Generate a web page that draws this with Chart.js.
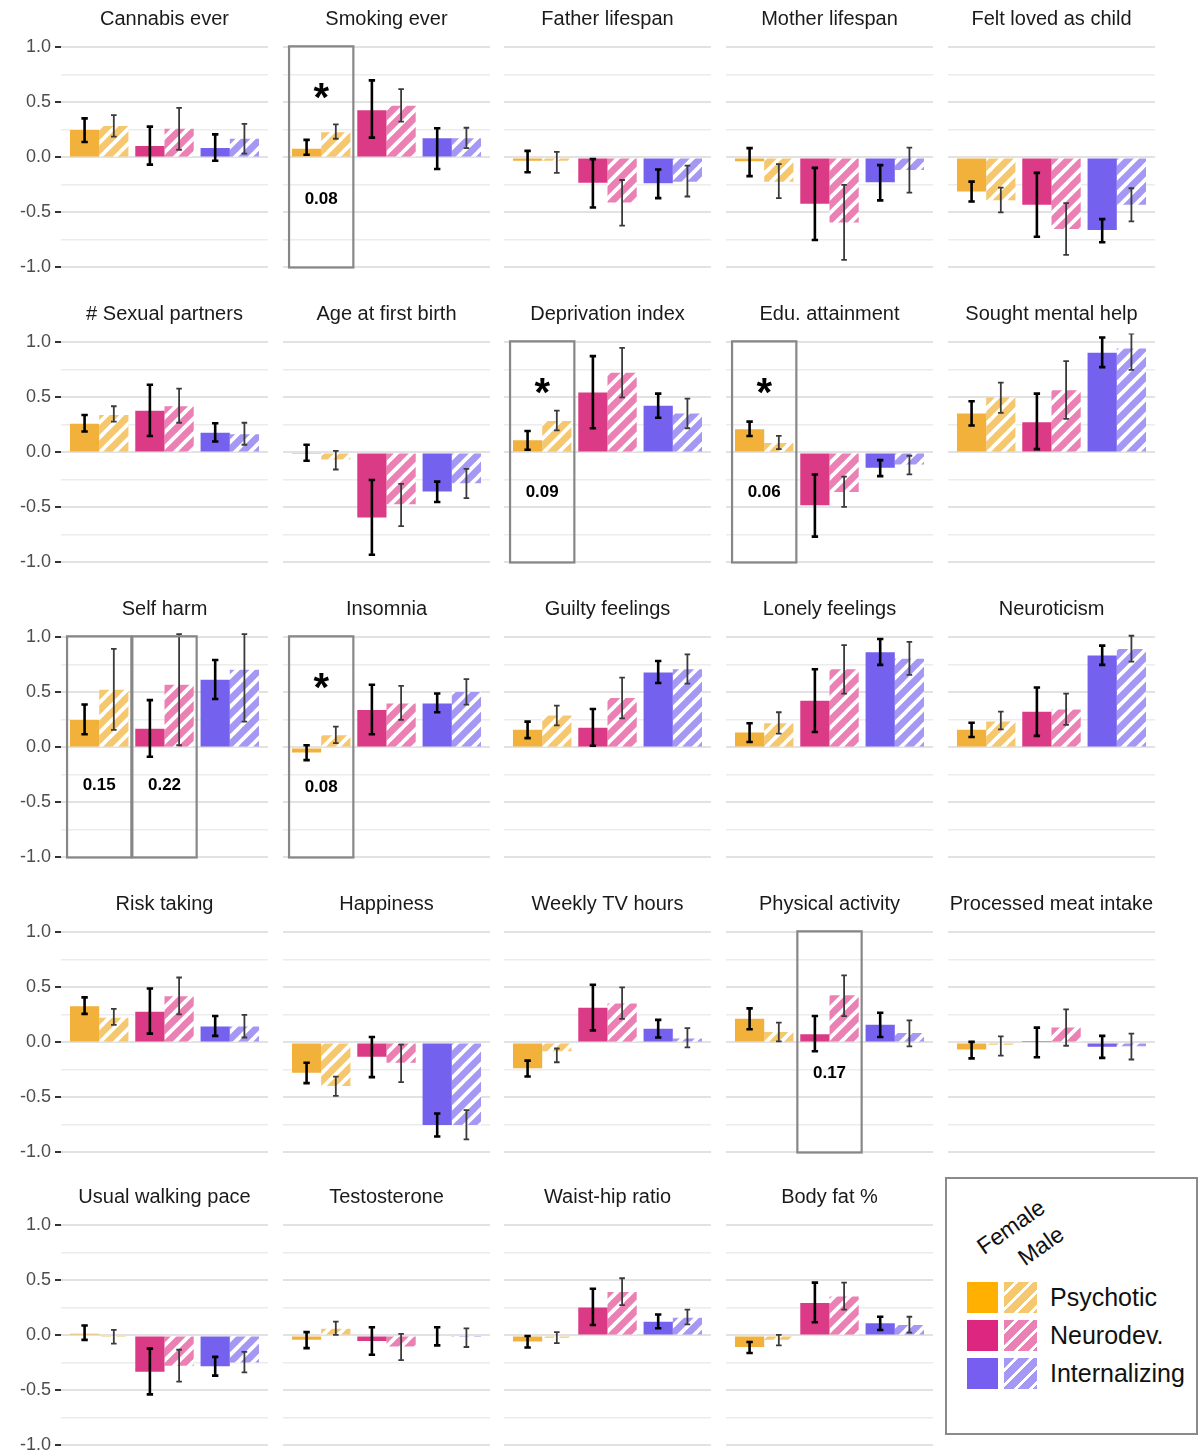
<!DOCTYPE html>
<html>
<head>
<meta charset="utf-8">
<script src="https://cdn.jsdelivr.net/npm/chart.js@4.4.1/dist/chart.umd.min.js"></script>
<style>
  html, body { margin: 0; padding: 0; background: #fff; }
  #page { position: relative; width: 1198px; height: 1456px; overflow: hidden; font-family: "Liberation Sans", Arial, sans-serif; }
  #page canvas { position: absolute; }
  #legend { position: absolute; left: 945px; top: 1177px; width: 249px; height: 254px; border: 2px solid #8a8a8a; }
  #legend .sex { position: absolute; font-size: 23px; color: #111; transform: translate(-50%, -50%) rotate(-35deg); white-space: nowrap; }
  #legend .sw { position: absolute; width: 31px; height: 31px; }
  #legend .lab { position: absolute; font-size: 25px; color: #111; line-height: 31px; }
</style>
</head>
<body>
<div id="page"><div id="legend"></div></div>
<script>
// ---- data ----
const panelTitles = ['Cannabis ever', 'Smoking ever', 'Father lifespan', 'Mother lifespan', 'Felt loved as child',
  '# Sexual partners', 'Age at first birth', 'Deprivation index', 'Edu. attainment', 'Sought mental help',
  'Self harm', 'Insomnia', 'Guilty feelings', 'Lonely feelings', 'Neuroticism',
  'Risk taking', 'Happiness', 'Weekly TV hours', 'Physical activity', 'Processed meat intake',
  'Usual walking pace', 'Testosterone', 'Waist-hip ratio', 'Body fat %'];

const groupNames = ['Psychotic', 'Neurodev.', 'Internalizing'];
const yTicks = [-1.0, -0.5, 0.0, 0.5, 1.0];

// one triple per panel: Psychotic, Neurodev., Internalizing
const femaleMean = [
  [0.25, 0.105, 0.085], [0.08, 0.43, 0.175], [-0.03, -0.23, -0.235], [-0.035, -0.42, -0.225], [-0.31, -0.43, -0.66],
  [0.26, 0.38, 0.18], [-0.005, -0.59, -0.355], [0.11, 0.545, 0.425], [0.21, -0.48, -0.14], [0.355, 0.275, 0.905],
  [0.25, 0.17, 0.615], [-0.045, 0.34, 0.40], [0.16, 0.18, 0.68], [0.135, 0.425, 0.865], [0.16, 0.325, 0.835],
  [0.33, 0.28, 0.145], [-0.275, -0.13, -0.75], [-0.235, 0.315, 0.125], [0.215, 0.075, 0.16], [-0.065, 0.005, -0.04],
  [0.015, -0.33, -0.28], [-0.04, -0.05, 0.0], [-0.055, 0.255, 0.125], [-0.105, 0.295, 0.11]
];
const femaleLow = [
  [0.14, -0.065, -0.03], [0.025, 0.18, -0.105], [-0.135, -0.455, -0.37], [-0.17, -0.75, -0.39], [-0.40, -0.72, -0.77],
  [0.19, 0.15, 0.10], [-0.075, -0.93, -0.45], [0.025, 0.22, 0.315], [0.15, -0.765, -0.215], [0.245, 0.03, 0.775],
  [0.12, -0.085, 0.44], [-0.115, 0.12, 0.32], [0.085, 0.015, 0.585], [0.05, 0.14, 0.75], [0.095, 0.105, 0.75],
  [0.26, 0.08, 0.06], [-0.37, -0.315, -0.855], [-0.31, 0.11, 0.045], [0.12, -0.08, 0.05], [-0.145, -0.135, -0.14],
  [-0.04, -0.535, -0.365], [-0.115, -0.175, -0.09], [-0.11, 0.095, 0.065], [-0.16, 0.12, 0.05]
];
const femaleHigh = [
  [0.355, 0.28, 0.21], [0.16, 0.70, 0.265], [0.06, -0.015, -0.11], [0.085, -0.095, -0.07], [-0.22, -0.14, -0.56],
  [0.34, 0.615, 0.265], [0.07, -0.25, -0.265], [0.195, 0.875, 0.535], [0.28, -0.20, -0.07], [0.465, 0.535, 1.045],
  [0.39, 0.43, 0.795], [0.02, 0.57, 0.49], [0.235, 0.35, 0.785], [0.22, 0.71, 0.985], [0.225, 0.545, 0.925],
  [0.41, 0.49, 0.24], [-0.185, 0.05, -0.645], [-0.165, 0.525, 0.205], [0.31, 0.24, 0.27], [0.005, 0.135, 0.06],
  [0.09, -0.12, -0.195], [0.03, 0.075, 0.075], [-0.005, 0.425, 0.19], [-0.06, 0.48, 0.17]
];
const maleMean = [
  [0.285, 0.26, 0.17], [0.23, 0.47, 0.175], [-0.03, -0.41, -0.22], [-0.22, -0.59, -0.115], [-0.39, -0.65, -0.43],
  [0.34, 0.42, 0.165], [-0.065, -0.47, -0.28], [0.285, 0.725, 0.355], [0.085, -0.36, -0.11], [0.50, 0.565, 0.945],
  [0.525, 0.57, 0.705], [0.11, 0.40, 0.505], [0.29, 0.45, 0.71], [0.22, 0.71, 0.805], [0.235, 0.345, 0.895],
  [0.225, 0.42, 0.145], [-0.395, -0.185, -0.75], [-0.08, 0.355, 0.035], [0.095, 0.43, 0.085], [-0.02, 0.135, -0.035],
  [-0.005, -0.275, -0.245], [0.06, -0.10, -0.015], [-0.02, 0.395, 0.16], [-0.04, 0.355, 0.095]
];
const maleLow = [
  [0.19, 0.07, 0.035], [0.17, 0.325, 0.085], [-0.14, -0.62, -0.355], [-0.37, -0.93, -0.32], [-0.50, -0.885, -0.58],
  [0.28, 0.27, 0.07], [-0.155, -0.67, -0.415], [0.20, 0.50, 0.22], [0.03, -0.495, -0.20], [0.36, 0.305, 0.75],
  [0.16, 0.02, 0.235], [0.04, 0.25, 0.39], [0.20, 0.265, 0.58], [0.125, 0.49, 0.66], [0.165, 0.205, 0.78],
  [0.16, 0.255, 0.045], [-0.485, -0.36, -0.88], [-0.18, 0.215, -0.045], [0.01, 0.24, -0.035], [-0.12, -0.03, -0.155],
  [-0.075, -0.42, -0.335], [0.005, -0.225, -0.105], [-0.07, 0.275, 0.10], [-0.09, 0.235, 0.025]
];
const maleHigh = [
  [0.385, 0.45, 0.305], [0.30, 0.62, 0.27], [0.05, -0.205, -0.075], [-0.06, -0.25, 0.09], [-0.275, -0.415, -0.28],
  [0.42, 0.58, 0.27], [0.015, -0.285, -0.15], [0.38, 0.95, 0.49], [0.15, -0.22, -0.03], [0.635, 0.83, 1.08],
  [0.895, 1.03, 1.03], [0.19, 0.56, 0.62], [0.38, 0.635, 0.845], [0.32, 0.93, 0.96], [0.325, 0.49, 1.015],
  [0.305, 0.59, 0.25], [-0.31, -0.02, -0.615], [-0.055, 0.50, 0.13], [0.18, 0.61, 0.20], [0.055, 0.30, 0.08],
  [0.05, -0.13, -0.15], [0.125, 0.015, 0.065], [0.03, 0.52, 0.235], [0.005, 0.48, 0.17]
];

// highlighted groups: panel, group, p-value label, star
const boxPanel = [1, 7, 8, 10, 10, 11, 18];
const boxGroup = [0, 0, 0, 0, 1, 0, 1];
const boxLabel = ['0.08', '0.09', '0.06', '0.15', '0.22', '0.08', '0.17'];
const boxStar = [true, true, true, false, false, true, false];
const boxLabelY = [-0.37, -0.35, -0.35, -0.335, -0.335, -0.35, -0.27];

// ---- styling / layout ----
const femaleColors = ['#F1B13B', '#DB3A86', '#7461EE'];
const maleColors = ['#F5C76E', '#EA80B3', '#A597F4'];
const legendFemale = ['#FFB000', '#DC267F', '#785EF0'];
const colLeft = [61, 282.7, 504.4, 726, 947.8];
const rowOne = [47.7, 342.7, 637.7, 932.7, 1225.7];
const plotW = 207;
const fontFam = '"Liberation Sans", Arial, sans-serif';

function makeHatch(color) {
  const s = 15;
  const c = document.createElement('canvas');
  c.width = s; c.height = s;
  const x = c.getContext('2d');
  x.fillStyle = color;
  x.fillRect(0, 0, s, s);
  x.strokeStyle = '#ffffff';
  x.lineWidth = 3.8;
  x.beginPath();
  for (let k = -1; k <= 1; k++) {
    x.moveTo(k * s - 1, s + 1);
    x.lineTo(k * s + s + 1, -1);
  }
  x.stroke();
  return x.createPattern(c, 'repeat');
}
const malePatterns = maleColors.map(makeHatch);

const isMajor = v => yTicks.some(t => Math.abs(t - v) < 1e-6);

// error bars + highlight boxes
const panelMarks = {
  id: 'panelMarks',
  afterDatasetsDraw(chart, args, opts) {
    const p = opts.index;
    const ctx = chart.ctx, ys = chart.scales.y, xs = chart.scales.x, area = chart.chartArea;
    ctx.save();
    ctx.beginPath();
    ctx.rect(area.left, area.top, area.right - area.left, area.bottom - area.top);
    ctx.clip();
    const specs = [
      [femaleLow, femaleHigh, '#000000', 2.6, 3.2],
      [maleLow, maleHigh, '#3a3a3a', 1.8, 2.8]
    ];
    specs.forEach(([lo, hi, col, lw, cap], d) => {
      chart.getDatasetMeta(d).data.forEach((bar, g) => {
        const y1 = ys.getPixelForValue(lo[p][g]);
        const y2 = ys.getPixelForValue(hi[p][g]);
        ctx.strokeStyle = col;
        ctx.lineWidth = lw;
        ctx.beginPath();
        ctx.moveTo(bar.x, y1); ctx.lineTo(bar.x, y2);
        ctx.moveTo(bar.x - cap, y1); ctx.lineTo(bar.x + cap, y1);
        ctx.moveTo(bar.x - cap, y2); ctx.lineTo(bar.x + cap, y2);
        ctx.stroke();
      });
    });
    ctx.restore();

    boxPanel.forEach((bp, k) => {
      if (bp !== p) return;
      const g = boxGroup[k];
      const xl = xs.getPixelForValue(g - 0.5) + 0.5;
      const xr = xs.getPixelForValue(g + 0.5) - 0.5;
      const yt = ys.getPixelForValue(1.01);
      const yb = ys.getPixelForValue(-1.0);
      ctx.save();
      ctx.strokeStyle = '#878787';
      ctx.lineWidth = 2.2;
      ctx.strokeRect(xl, yt, xr - xl, yb - yt);
      const cx = (xl + xr) / 2;
      ctx.fillStyle = '#000';
      ctx.textAlign = 'center';
      if (boxStar[k]) {
        ctx.font = 'bold 40px ' + fontFam;
        ctx.textBaseline = 'alphabetic';
        ctx.fillText('*', cx, ys.getPixelForValue(0.6) + 20);
      }
      ctx.font = 'bold 17px ' + fontFam;
      ctx.textBaseline = 'middle';
      ctx.fillText(boxLabel[k], cx, ys.getPixelForValue(boxLabelY[k]) + 1);
      ctx.restore();
    });
  }
};

const page = document.getElementById('page');

panelTitles.forEach((title, p) => {
  const col = p % 5, row = Math.floor(p / 5);
  const axisW = col === 0 ? 61 : 0;
  const cw = axisW + plotW, ch = 287;
  const canvas = document.createElement('canvas');
  canvas.width = cw; canvas.height = ch;
  canvas.style.width = cw + 'px'; canvas.style.height = ch + 'px';
  canvas.style.left = (colLeft[col] - axisW) + 'px';
  canvas.style.top = (rowOne[row] - 45.4) + 'px';
  page.appendChild(canvas);

  new Chart(canvas.getContext('2d'), {
    type: 'bar',
    data: {
      datasets: [
        {
          label: 'Female',
          data: groupNames.map((g, i) => ({ x: i, y: femaleMean[p][i] })),
          backgroundColor: femaleColors,
          borderWidth: 0
        },
        {
          label: 'Male',
          data: groupNames.map((g, i) => ({ x: i, y: maleMean[p][i] })),
          backgroundColor: malePatterns,
          borderWidth: 0
        }
      ]
    },
    options: {
      responsive: false,
      maintainAspectRatio: false,
      animation: false,
      events: [],
      layout: { padding: { top: 0, left: 0, right: 0, bottom: 16 } },
      datasets: { bar: { categoryPercentage: 0.895, barPercentage: 1.0 } },
      scales: {
        x: {
          type: 'linear',
          display: false,
          offset: false,
          min: -0.585,
          max: 2.585,
          grid: { offset: false },
          ticks: { stepSize: 1, includeBounds: false }
        },
        y: {
          min: -1.05,
          max: 1.08,
          border: { display: false },
          afterFit: s => { s.width = axisW; },
          ticks: {
            display: col === 0,
            stepSize: 0.25,
            includeBounds: false,
            padding: 4,
            color: '#4d4d4d',
            font: { size: 18, family: fontFam },
            callback: v => isMajor(v) ? v.toFixed(1) : ''
          },
          grid: {
            color: c => (c.tick && isMajor(c.tick.value)) ? '#e2e2e2' : '#ececec',
            lineWidth: c => (c.tick && isMajor(c.tick.value)) ? 2 : 1.4,
            drawTicks: col === 0,
            tickLength: 6,
            tickWidth: 2,
            tickColor: c => (c.tick && isMajor(c.tick.value)) ? '#333333' : 'rgba(0,0,0,0)'
          }
        }
      },
      plugins: {
        legend: { display: false },
        tooltip: { enabled: false },
        title: {
          display: true,
          text: title,
          fullSize: false,
          color: '#1a1a1a',
          font: { size: 20, weight: 'normal', family: fontFam },
          padding: { top: 5, bottom: 7.6 }
        },
        panelMarks: { index: p }
      }
    },
    plugins: [panelMarks]
  });
});

// legend
const legend = document.getElementById('legend');
[['Female', 64, 48], ['Male', 94, 67]].forEach(([txt, x, y]) => {
  const s = document.createElement('span');
  s.className = 'sex';
  s.textContent = txt;
  s.style.left = x + 'px';
  s.style.top = y + 'px';
  legend.appendChild(s);
});
groupNames.forEach((name, i) => {
  const top = 103 + i * 38;
  const f = document.createElement('div');
  f.className = 'sw';
  f.style.left = '20px'; f.style.top = top + 'px';
  f.style.background = legendFemale[i];
  legend.appendChild(f);
  const m = document.createElement('div');
  m.className = 'sw';
  m.style.left = '57px'; m.style.top = top + 'px'; m.style.width = '33px';
  m.style.background = 'repeating-linear-gradient(135deg, ' + maleColors[i] + ' 0px, ' + maleColors[i] + ' 7.6px, #fff 7.6px, #fff 10.6px)';
  legend.appendChild(m);
  const l = document.createElement('div');
  l.className = 'lab';
  l.style.left = '103px'; l.style.top = top + 'px';
  l.textContent = name;
  legend.appendChild(l);
});
</script>
</body>
</html>
